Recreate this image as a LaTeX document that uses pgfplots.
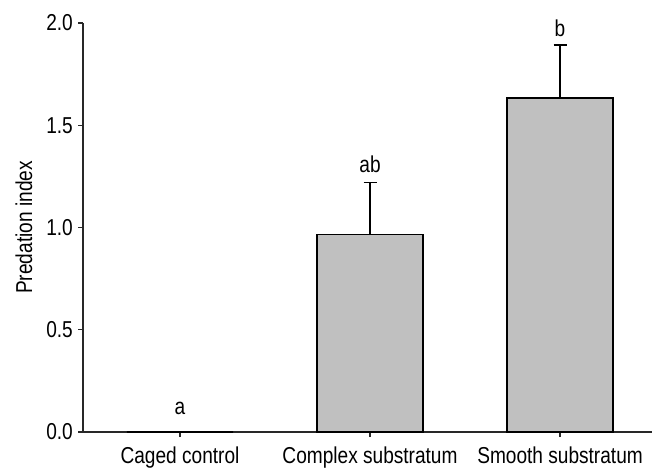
\documentclass[border=0pt]{standalone}
\usepackage{fontspec}
\setmainfont{Liberation Sans}[FakeStretch=0.83]
\usepackage{pgfplots}
\pgfplotsset{compat=1.18}
\definecolor{barfill}{RGB}{192,192,192}
\definecolor{axcol}{RGB}{40,40,40}
\begin{document}
\begin{tikzpicture}[font=\fontsize{23pt}{27pt}\selectfont]
\begin{axis}[
  at={(83pt,37pt)}, anchor=south west,
  scale only axis,
  width=569pt, height=409pt,
  xmin=-0.5105, xmax=2.484,
  ymin=0, ymax=2.0,
  axis lines*=left,
  axis line style={-, line width=1.5pt, color=axcol},
  xtick={0,1,2},
  xticklabels={Caged control, Complex substratum, Smooth substratum},
  ytick={0,0.5,1.0,1.5,2.0},
  tick align=outside,
  major tick length=5pt,
  tick style={line width=1.3pt, color=axcol},
  minor tick num=0,
  /pgf/number format/assume math mode=true,
  yticklabel style={/pgf/number format/fixed, /pgf/number format/fixed zerofill, /pgf/number format/precision=1},
  yticklabel style={anchor=east, inner sep=0pt, xshift=-5pt},
  xticklabel style={anchor=base, inner sep=0pt},
  every x tick label/.append style={yshift=-26pt},
  ylabel={Predation index},
  every axis y label/.style={at={(axis description cs:-0.104,0.5)}, rotate=90, anchor=center},
  clip=false,
]
\addplot[ybar, bar width=0.56, fill=barfill, draw=black, line width=1.5pt,
  error bars/.cd, y dir=plus, y explicit,
  error bar style={line width=1.5pt, black},
  error mark options={rotate=90, mark size=6.5pt, line width=1.5pt, black}]
  coordinates {(0,0) +- (0,0) (1,0.966) +- (0,0.254) (2,1.634) +- (0,0.259)};
\node at (axis cs:0,0.115) {a};
\node at (axis cs:1,1.31) {ab};
\node at (axis cs:2,1.975) {b};
\end{axis}
\pgfresetboundingbox
\path (0pt,0pt) rectangle (652pt,469pt);
\end{tikzpicture}
\end{document}
